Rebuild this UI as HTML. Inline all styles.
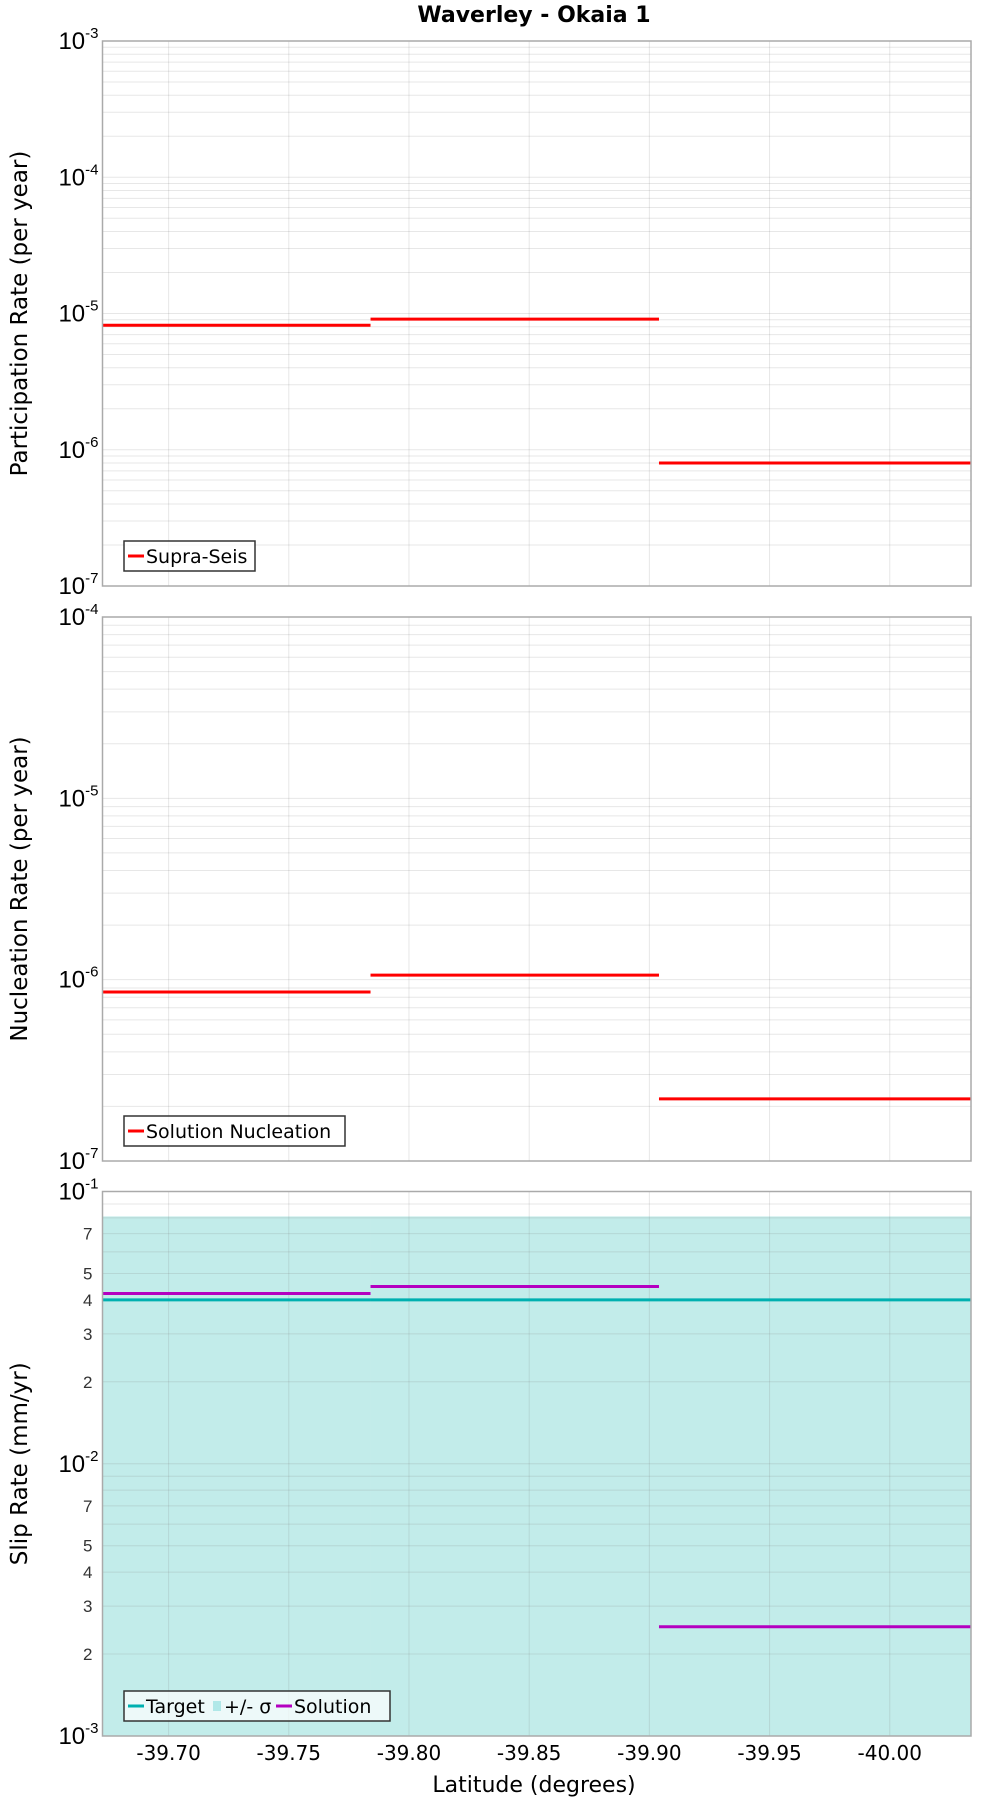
<!DOCTYPE html>
<html><head><meta charset="utf-8"><style>
html,body{margin:0;padding:0;background:#fff;}
svg{display:block;font-family:"Liberation Sans","DejaVu Sans",sans-serif;}
</style></head><body>
<svg id="chart" width="1000" height="1800" viewBox="0 0 1000 1800" xmlns="http://www.w3.org/2000/svg">
<text x="534" y="22" text-anchor="middle" font-size="22" font-weight="bold" font-family="DejaVu Sans, sans-serif">Waverley - Okaia 1</text>
<text x="534" y="1792" text-anchor="middle" font-size="22" font-family="DejaVu Sans, sans-serif">Latitude (degrees)</text>
</svg>
<script>
const xTicks = [-39.70, -39.75, -39.80, -39.85, -39.90, -39.95, -40.00];
const xTickLabels = ["-39.70", "-39.75", "-39.80", "-39.85", "-39.90", "-39.95", "-40.00"];
const segStarts = [-39.6725, -39.784, -39.904];
const segEnds = [-39.784, -39.904, -40.0338];
const partRates = [8.2e-6, 9.1e-6, 8.0e-7];
const nuclRates = [8.55e-7, 1.06e-6, 2.2e-7];
const slipTarget = [0.040, 0.040, 0.040];
const slipSigmaHigh = [0.081, 0.081, 0.081];
const slipSigmaLow = [0.0005, 0.0005, 0.0005];
const slipSolution = [0.0422, 0.0448, 0.00252];

const NS = "http://www.w3.org/2000/svg";
const svg = document.getElementById('chart');
const X0 = 102.5, X1 = 971, LAT0 = -39.6725, LAT1 = -40.0338;
function xs(v){ return X0 + (v - LAT0) / (LAT1 - LAT0) * (X1 - X0); }
function mk(tag, attrs, parent){
  const e = document.createElementNS(NS, tag);
  for (const k in attrs) e.setAttribute(k, attrs[k]);
  (parent || svg).appendChild(e);
  return e;
}
function panel(name, top, bot, dmin, dmax, ytitle, minorLabels){
  const g = mk('g', {});
  
  
  const ys = v => bot - (Math.log10(v) - dmin) / (dmax - dmin) * (bot - top);
  mk('rect', {x:X0, y:top, width:X1-X0, height:bot-top, fill:'#fff'}, g);
  return {g, ys, top, bot, dmin, dmax, ytitle, minorLabels};
}
function finishPanel(p){
  const g = p.g;
  for (let d = p.dmin; d < p.dmax; d++) {
    for (let m = 1; m <= 9; m++) {
      const y = p.ys(m * Math.pow(10, d));
      const ln = mk('line', {x1:X0, x2:X1, y1:y, y2:y, stroke:'rgba(120,120,120,0.18)', 'stroke-width':1}, g);
      
      
      if (m === 1) {
        const t = mk('text', {x:X0-4, y:y+8, 'text-anchor':'end', 'font-size':24, fill:'#000'}, g);
        
        
        t.textContent = '10';
        const s = mk('tspan', {dy:-11, 'font-size':15}, t); s.textContent = String(d);
      } else if (p.minorLabels && [2,3,4,5,7].includes(m)) {
        const t = mk('text', {x:X0-10, y:y+6, 'text-anchor':'end', 'font-size':17, fill:'#333'}, g);
        
        
        t.textContent = String(m);
      }
    }
  }
  const tt = mk('text', {x:X0-4, y:p.top+8, 'text-anchor':'end', 'font-size':24}, g);
  
  
  tt.textContent = '10';
  const ts = mk('tspan', {dy:-11, 'font-size':15}, tt); ts.textContent = String(p.dmax);
  xTicks.forEach(v => {
    const ln = mk('line', {x1:xs(v), x2:xs(v), y1:p.top, y2:p.bot, stroke:'rgba(120,120,120,0.18)', 'stroke-width':1}, g);
    
    
  });
  const yt = mk('text', {x:0, y:0, transform:`translate(27,${(p.top+p.bot)/2}) rotate(-90)`, 'text-anchor':'middle', 'font-size':23, 'font-family':'DejaVu Sans, sans-serif'}, g);
  
  
  yt.textContent = p.ytitle;
}
function frame(p){
  const r = mk('rect', {x:X0, y:p.top, width:X1-X0, height:p.bot-p.top, fill:'none', stroke:'#aaa', 'stroke-width':1.5}, p.g);
  
  
}
function steps(p, vals, color, name){
  vals.forEach((v, i) => {
    const y = p.ys(v);
    const ln = mk('line', {x1:xs(segStarts[i]), x2:xs(segEnds[i]), y1:y, y2:y, stroke:color, 'stroke-width':3}, p.g);
    
    
  });
}
function legend(p, x, y, w, items, name){
  const lg = mk('g', {}, p.g);
  
  
  mk('rect', {x, y, width:w, height:30, fill:'rgba(255,255,255,0.7)', stroke:'#333', 'stroke-width':1.5}, lg);
  let cx = x + 4;
  items.forEach(it => {
    if (it.box) mk('rect', {x:cx+1, y:y+10, width:8, height:10, fill:it.color}, lg);
    else mk('line', {x1:cx, x2:cx+16, y1:y+15, y2:y+15, stroke:it.color, 'stroke-width':3}, lg);
    cx += it.box ? 12 : 18;
    const t = mk('text', {x:cx, y:y+22, 'font-size':19, 'font-family':'DejaVu Sans, sans-serif'}, lg);
    
    
    t.textContent = it.label;
    cx += it.w;
  });
}

const p1 = panel('participation-panel', 41, 586, -7, -3, 'Participation Rate (per year)', false);
finishPanel(p1);
steps(p1, partRates, '#ff0000', 'supra-seis');
legend(p1, 124, 541, 131, [{color:'#ff0000', label:'Supra-Seis', w:100}], 'legend-participation');
frame(p1);

const p2 = panel('nucleation-panel', 617, 1161, -7, -4, 'Nucleation Rate (per year)', false);
finishPanel(p2);
steps(p2, nuclRates, '#ff0000', 'solution-nucleation');
legend(p2, 124, 1116, 221, [{color:'#ff0000', label:'Solution Nucleation', w:200}], 'legend-nucleation');
frame(p2);

const p3 = panel('slip-rate-panel', 1191.5, 1736, -3, -1, 'Slip Rate (mm/yr)', true);
slipSigmaHigh.forEach((v, i) => {
  const yTop = p3.ys(v), yBot = Math.min(p3.ys(slipSigmaLow[i]), p3.bot);
  const r = mk('rect', {x:xs(segStarts[i]), y:yTop, width:xs(segEnds[i])-xs(segStarts[i]), height:yBot-yTop, fill:'#c2ecea'}, p3.g);
  
  
});
finishPanel(p3);
steps(p3, slipTarget, '#00b0b0', 'target');
steps(p3, slipSolution, '#b400c0', 'solution');
legend(p3, 124, 1691, 266, [
  {color:'#00b0b0', label:'Target', w:66},
  {color:'#b0e8e8', label:'+/- σ', box:true, w:52},
  {color:'#b400c0', label:'Solution', w:90}
], 'legend-slip');
frame(p3);

xTicks.forEach((v, i) => {
  const t = mk('text', {x:xs(v), y:1760, 'text-anchor':'middle', 'font-size':20, 'font-family':'DejaVu Sans, sans-serif'});
  
  
  t.textContent = xTickLabels[i];
});
</script>
</body></html>
